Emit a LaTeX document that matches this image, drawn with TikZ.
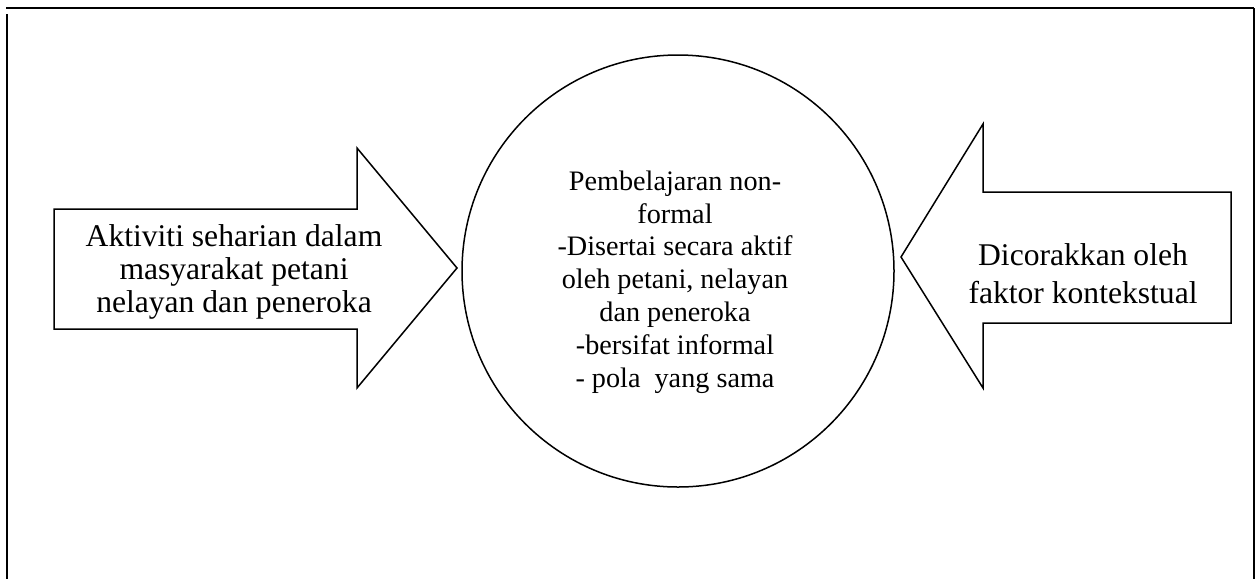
\documentclass[tikz,border=0pt]{standalone}
\usepackage{fontspec}
\setmainfont{Liberation Serif}
\usetikzlibrary{positioning}
\tikzset{
	blockarrow/.style={draw=black,line width=0.75pt,line join=miter,fill=white},
	frameline/.style={line width=1pt},
	arrowtext/.style={align=center,font=\fontsize{15.8}{16.7}\selectfont},
}
\begin{document}
\begin{tikzpicture}[x=0.5pt,y=-0.5pt]
		\useasboundingbox (0,0) rectangle (1256,579);
		% frame
		\draw[frameline] (6,8)--(1254,8);
		\draw[frameline] (7,14)--(7,579);
		\draw[frameline] (1254,8)--(1254,579);
		% left arrow
		\draw[blockarrow] (54,209)--(357,209)--(357,148)--(457,268)--(357,388)--(357,329)--(54,329)--cycle;
		% right arrow
		\draw[blockarrow] (1231,192)--(983,192)--(983,124)--(901,257)--(983,388)--(983,323)--(1231,323)--cycle;
		% circle
		\node[circle,draw,line width=0.75pt,minimum size=216pt,inner sep=0pt] (pusat) at (678,271) {};
		\node[align=center,font=\fontsize{14.1}{16.4}\selectfont] (isi) at (675,282)
			{Pembelajaran non-\\formal\\-Disertai secara aktif\\oleh petani, nelayan\\dan peneroka\\-bersifat informal\\- pola\ \ yang sama};
		\node[arrowtext] (aktiviti) at (234,272)
			{Aktiviti seharian dalam\\masyarakat petani\\nelayan dan peneroka};
		\node[arrowtext,font=\fontsize{15.8}{19}\selectfont] (faktor) at (1083,274)
			{Dicorakkan oleh\\faktor kontekstual};
	\end{tikzpicture}
\end{document}
